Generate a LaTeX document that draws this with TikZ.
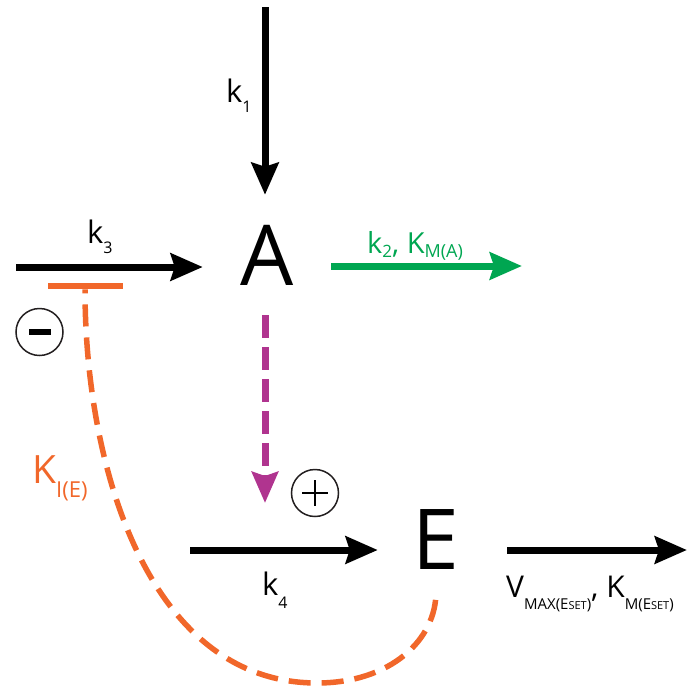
\documentclass[tikz,border=0pt]{standalone}
\usepackage{fontspec}
\setmainfont{Open Sans}
\usetikzlibrary{positioning,arrows.meta}

\definecolor{inhorange}{HTML}{F1672A}
\definecolor{degreen}{HTML}{00A651}
\definecolor{actmagenta}{HTML}{B0348F}
\definecolor{signgrey}{HTML}{231F20}

\newcommand{\lowidx}[3]{\raisebox{-#2}{\fontsize{#1}{#1}\selectfont #3}}

\begin{document}
\begin{tikzpicture}[x=1pt, y=-1pt,
    flux/.style={line width=7pt, -{Stealth[length=32pt,width=27pt,inset=4pt]}},
    species/.style={inner sep=0pt, font=\fontsize{84}{84}\selectfont},
    rate/.style={anchor=base west, inner sep=0pt, font=\fontsize{31}{31}\selectfont},
    sign/.style={draw=signgrey, circle, line width=1.5pt, minimum size=47pt, inner sep=0pt}]
    \useasboundingbox (0,0) rectangle (688,689);

    \node[species, minimum width=128pt, minimum height=120pt] (A) at (267,255) {A};
    \node[species, minimum width=116pt, minimum height=100pt] (E) at (436,540) {E};

    \coordinate (k1in) at (265,7);
    \coordinate (k3in) at (16,267);
    \coordinate (k2out) at (522,266);
    \coordinate (k4in) at (190,550);
    \coordinate (Eout) at (687,550);
    \coordinate (act) at (265,503);
    \coordinate (dip) at (317,683);

    \node[fill=inhorange, minimum width=75pt, minimum height=6.5pt, inner sep=0pt] (bar) at (85,286) {};
    \node[sign] (minus) at (39.5,332) {\rule{22pt}{6pt}};
    \node[sign] (plus) at (315,493) {};
    \draw[line width=2pt] (plus.center) +(-13,0) -- +(13,0) (plus.center) +(0,-13) -- +(0,13);

    \draw[flux] (k1in) -- (k1in |- A.north);
    \draw[flux] (k3in) -- (k3in -| A.west);
    \draw[flux, degreen] (A.east |- k2out) -- (k2out);
    \draw[flux, actmagenta, dash pattern=on 23pt off 9pt, -{Stealth[length=31pt,width=26pt,inset=4pt]}] (act |- A.south) -- (act);
    \draw[flux] (k4in) -- (k4in -| E.west);
    \draw[flux, shorten <=13pt] (E.east |- Eout) -- (Eout);

    \draw[inhorange, line width=5.5pt, dash pattern=on 22pt off 11pt, dash phase=18pt]
        (bar.south) .. controls (85,470) and (150,683) .. (dip)
        .. controls (390,683) and (437,640) .. (E.south);

    \node[rate] (k1lab) at (226,102) {k\lowidx{16}{10pt}{1}};
    \node[rate] (k3lab) at (87,243) {k\lowidx{16}{10pt}{3}};
    \node[rate, degreen, font=\fontsize{29}{29}\selectfont] (k2lab) at (367,253) {k\lowidx{17}{4pt}{2}, K\lowidx{18}{4pt}{M(A)}};
    \node[rate] (k4lab) at (262,595) {k\lowidx{16}{13pt}{4}};
    \node[rate, font=\fontsize{30}{30}\selectfont] (vlab) at (506,597) {V\lowidx{15}{12pt}{MAX(E{\fontsize{11}{11}\selectfont SET})}, K\lowidx{15}{12pt}{M(E{\fontsize{11}{11}\selectfont SET})}};
    \node[rate, inhorange, font=\fontsize{39}{39}\selectfont] (kilab) at (32,483) {K\lowidx{22}{14pt}{I(E)}};
\end{tikzpicture}
\end{document}
